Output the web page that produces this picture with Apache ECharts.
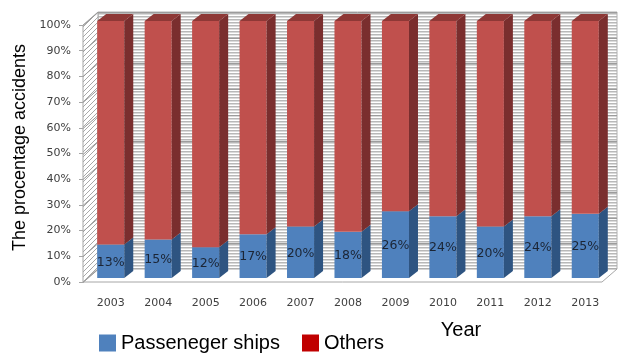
<!DOCTYPE html>
<html lang="en">
<head>
<meta charset="utf-8">
<title>Accidents by ship type</title>
<script src="https://cdn.jsdelivr.net/npm/echarts@6/dist/echarts.min.js"></script>
<style>
  html, body { margin: 0; padding: 0; background: #fff; }
  #chart { width: 620px; height: 354px; }
</style>
</head>
<body>
<div id="chart"></div>
<script type="text/javascript">
    // values (percent of accidents per year)
    let years = ['2003', '2004', '2005', '2006', '2007', '2008', '2009', '2010', '2011', '2012', '2013'];
    let passengerShips = [13, 15, 12, 17, 20, 18, 26, 24, 20, 24, 25];
    let others = [87, 85, 88, 83, 80, 82, 74, 76, 80, 76, 75];
    let yTicks = [0, 10, 20, 30, 40, 50, 60, 70, 80, 90, 100];

    // 3d look
    let depthX = 9, depthY = -7, lift = 4;
    let wallX = 15, wallY = -13;

    function makePattern(w, h, draw) {
        let c = document.createElement('canvas');
        c.width = w; c.height = h;
        let ctx = c.getContext('2d');
        ctx.fillStyle = '#ffffff';
        ctx.fillRect(0, 0, w, h);
        draw(ctx);
        return { image: c, repeat: 'repeat' };
    }

    // horizontal stripes of the back wall
    let stripes = makePattern(4, 3, function(ctx){
        ctx.fillStyle = '#b8b8b8';
        ctx.fillRect(0, 1, 4, 1);
        ctx.fillStyle = '#dadada';
        ctx.fillRect(0, 2, 4, 1);
    });
    // diagonal hatch of the side wall
    let hatch = makePattern(5, 5, function(ctx){
        ctx.strokeStyle = '#a8a8a8';
        ctx.lineWidth = 1;
        ctx.beginPath();
        ctx.moveTo(-1, 6); ctx.lineTo(6, -1);
        ctx.stroke();
    });

    function renderWalls(params, api) {
        let cs = params.coordSys;
        let y0 = api.coord([0, 0])[1];
        let y100 = api.coord([0, 100])[1];
        let L = cs.x - 4;
        let R = cs.x + cs.width - 7;
        let children = [
            { type: 'polygon', shape: { points: [[L + wallX, y100 + wallY], [R + wallX, y100 + wallY], [R + wallX, y0 + wallY], [L + wallX, y0 + wallY]] },
              style: { fill: stripes, stroke: '#b0b0b0', lineWidth: 1 } },
            { type: 'polygon', shape: { points: [[L, y0], [L, y100], [L + wallX, y100 + wallY], [L + wallX, y0 + wallY]] },
              style: { fill: hatch, stroke: '#a6a6a6', lineWidth: 1 } },
            { type: 'polygon', shape: { points: [[L, y0], [R, y0], [R + wallX, y0 + wallY], [L + wallX, y0 + wallY]] },
              style: { fill: '#ffffff', stroke: '#a6a6a6', lineWidth: 1 } }
        ];
        yTicks.forEach(function(v){
            let y = Math.round(api.coord([0, v])[1]) + 0.5;
            children.push({ type: 'line', shape: { x1: L, y1: y, x2: L + wallX, y2: y + wallY },
                style: { stroke: '#999999', lineWidth: 1 } });
            if (v > 0) {
                children.push({ type: 'line', shape: { x1: L + wallX, y1: y + wallY, x2: R + wallX, y2: y + wallY },
                    style: { stroke: '#9c9c9c', lineWidth: 1 } });
            }
        });
        return { type: 'group', children: children };
    }

    function prism(colors, withTop, withLabel) {
        return function(params, api) {
            let cat = api.value(0);
            let lo = api.coord([cat, api.value(1)]);
            let hi = api.coord([cat, api.value(2)]);
            let bw = api.size([1, 0])[0] * 0.57;
            let x = lo[0] - bw / 2;
            let yb = lo[1] - lift;
            let yt = hi[1] - lift;
            let children = [
                { type: 'rect', shape: { x: x, y: yt, width: bw, height: yb - yt }, style: { fill: colors.front } },
                { type: 'polygon', shape: { points: [[x + bw, yb], [x + bw, yt], [x + bw + depthX, yt + depthY], [x + bw + depthX, yb + depthY]] },
                  style: { fill: colors.side } }
            ];
            if (withTop) {
                children.push({ type: 'polygon', shape: { points: [[x, yt], [x + depthX, yt + depthY], [x + bw + depthX, yt + depthY], [x + bw, yt]] },
                    style: { fill: colors.top } });
            }
            if (withLabel) {
                children.push({ type: 'text', style: {
                    text: api.value(3) + '%', x: x + bw / 2, y: (yb + yt) / 2 + 1,
                    align: 'center', verticalAlign: 'middle',
                    font: '12.5px "DejaVu Sans"', fill: '#1b2535' } });
            }
            return { type: 'group', children: children };
        };
    }

    let passengerData = passengerShips.map(function(p, i){ return [i, 0, p, p]; });
    let othersData = others.map(function(o, i){ return [i, passengerShips[i], passengerShips[i] + o, o]; });

    let Chart = echarts.init(document.getElementById('chart'));

    let option = {
        animation: false,
        grid: { left: 87, right: 11, top: 25, bottom: 72 },
        legend: {
            left: 94, top: 328,
            itemWidth: 17, itemHeight: 17, itemGap: 22,
            textStyle: { fontSize: 20, fontFamily: 'Liberation Sans', color: '#000' },
            data: [
                { name: 'Passeneger ships', icon: 'rect', itemStyle: { color: '#4F81BD' } },
                { name: 'Others', icon: 'rect', itemStyle: { color: '#C00000' } }
            ]
        },
        xAxis: {
            type: 'category',
            data: years,
            name: 'Year',
            nameLocation: 'middle',
            nameGap: 38,
            nameTextStyle: { fontSize: 20, fontFamily: 'Liberation Sans', color: '#000', padding: [0, 0, 0, 226] },
            axisLine: { show: false },
            axisTick: { show: false },
            axisLabel: { margin: 16, fontSize: 11, fontFamily: 'DejaVu Sans', color: '#404040' }
        },
        yAxis: {
            type: 'value',
            min: 0, max: 100, interval: 10,
            offset: 4,
            name: 'The procentage accidents',
            nameLocation: 'middle',
            nameGap: 52,
            nameTextStyle: { fontSize: 18, fontFamily: 'Liberation Sans', color: '#000', padding: [0, 0, 0, 12] },
            axisLine: { show: true, lineStyle: { color: '#a6a6a6' } },
            axisTick: { show: true, length: 4, lineStyle: { color: '#a6a6a6' } },
            axisLabel: { formatter: '{value}%', margin: 12, fontSize: 11, fontFamily: 'DejaVu Sans', color: '#404040' },
            splitLine: { show: false }
        },
        series: [
            { name: 'walls', type: 'custom', renderItem: renderWalls, data: [[0]], silent: true, z: 1 },
            { name: 'Passeneger ships', type: 'custom', z: 2,
              renderItem: prism({ front: '#4F81BD', side: '#2E5481', top: '#3C6698' }, false, true),
              data: passengerData },
            { name: 'Others', type: 'custom', z: 3,
              renderItem: prism({ front: '#C0504D', side: '#7A2E2E', top: '#8E3836' }, true, false),
              data: othersData }
        ]
    };

    Chart.setOption(option);
</script>
</body>
</html>
